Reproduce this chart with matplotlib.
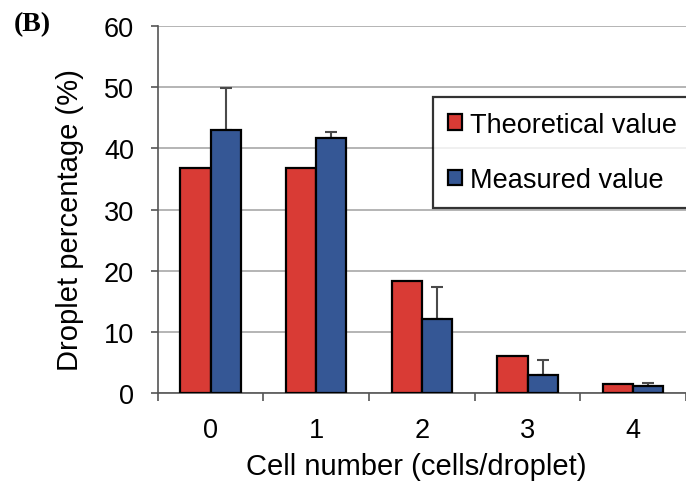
import matplotlib
matplotlib.use("Agg")
import matplotlib.pyplot as plt
import numpy as np
from matplotlib.ticker import FixedLocator

# Droplet occupancy: theoretical (Poisson) vs measured percentages
cell_numbers = ["0", "1", "2", "3", "4"]
theoretical = [36.8, 36.8, 18.4, 6.1, 1.5]
measured = [43.0, 41.7, 12.1, 2.9, 1.1]
measured_err_upper = [6.8, 1.0, 5.3, 2.5, 0.5]

plt.rcParams["font.family"] = ["Liberation Sans", "DejaVu Sans"]

fig = plt.figure(figsize=(6.86, 4.89), dpi=100)
ax = fig.add_axes([0.230, 0.194, 0.770, 0.751])

x = np.arange(len(cell_numbers))
w = 0.285
red = "#d93b35"
blue = "#355795"

ax.bar(x - w / 2, theoretical, w, color=red, edgecolor="black", linewidth=1.6,
       label="Theoretical value", zorder=3)
ax.bar(x + w / 2, measured, w, color=blue, edgecolor="black", linewidth=1.6,
       label="Measured value", zorder=3)
ax.errorbar(x + w / 2, measured,
            yerr=[np.zeros(len(measured)), measured_err_upper],
            fmt="none", ecolor="#4a4a4a", elinewidth=1.5, capsize=4,
            capthick=1.5, zorder=2)

ax.set_xlim(-0.5, len(cell_numbers) - 0.5)
ax.set_ylim(0, 60)
ax.set_yticks(np.arange(0, 61, 10))
ax.yaxis.grid(True, color="#a8a8a8", linewidth=1.2, zorder=0)
ax.set_axisbelow(True)

ax.set_xticks(x)
ax.set_xticklabels(cell_numbers)
ax.xaxis.set_minor_locator(FixedLocator(np.arange(-0.5, len(cell_numbers), 1.0)))
ax.tick_params(axis="x", which="major", length=0, pad=17, labelsize=19.5)
ax.tick_params(axis="x", which="minor", length=6, width=1.2, color="#555555",
               direction="out")
ax.tick_params(axis="y", length=5, width=1.2, color="#555555", pad=12,
               labelsize=19.5)

for side in ("top", "right"):
    ax.spines[side].set_visible(False)
for side in ("left", "bottom"):
    ax.spines[side].set_color("#555555")
    ax.spines[side].set_linewidth(1.2)

ax.set_ylabel("Droplet percentage (%)", fontsize=21)
ax.yaxis.set_label_coords(-0.167, 0.474)
ax.yaxis.label.set_va("center")
ax.set_xlabel("Cell number (cells/droplet)", fontsize=21)
ax.xaxis.set_label_coords(0.489, -0.199)
ax.xaxis.label.set_va("center")

leg = ax.legend(loc="upper left", bbox_to_anchor=(0.521, 0.807, 0.7, 0.0),
                mode="expand", frameon=True, fancybox=False, fontsize=19.5,
                handlelength=0.52, handleheight=0.52, handletextpad=0.28,
                labelspacing=1.08, borderpad=0.56, borderaxespad=0.0)
leg.get_frame().set_edgecolor("black")
leg.get_frame().set_linewidth(1.6)
for h in leg.legend_handles:
    h.set_linewidth(1.6)

fig.text(0.020, 0.950, "(B)", fontsize=20, fontweight="bold",
         family="Liberation Serif", ha="left", va="center")

fig.savefig("out.png", dpi=100)
